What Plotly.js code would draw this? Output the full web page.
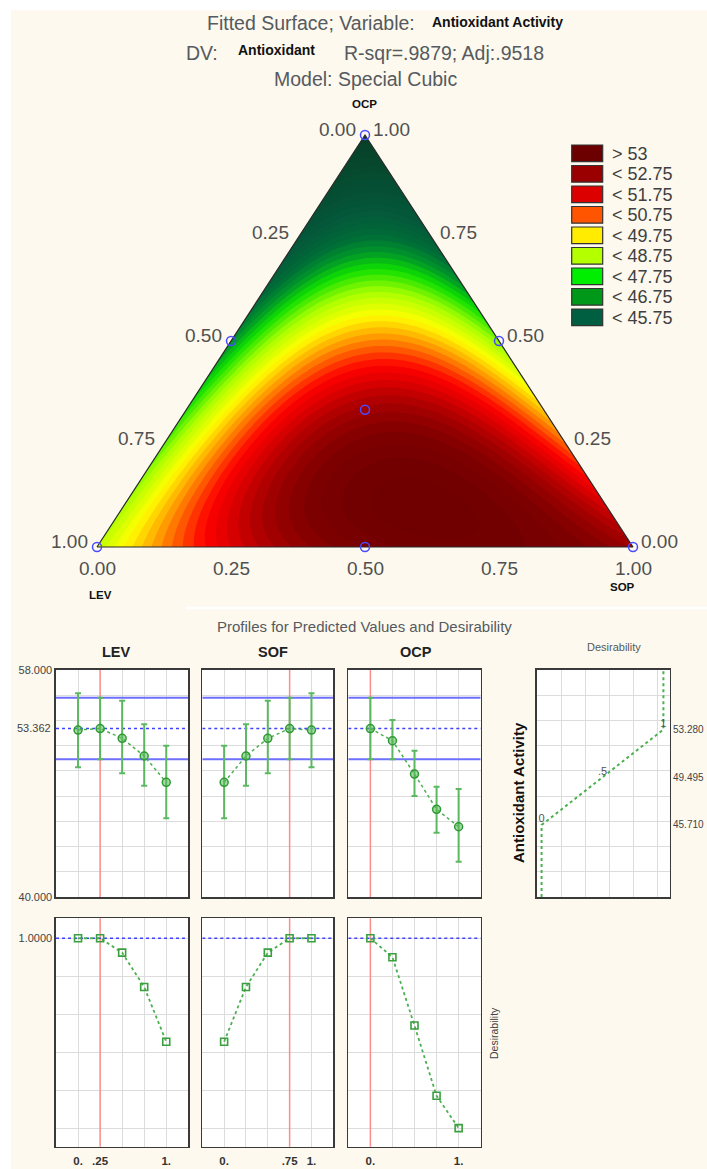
<!DOCTYPE html>
<html><head><meta charset="utf-8">
<script src="https://cdn.plot.ly/plotly-3.0.1.min.js"></script>
<style>html,body{margin:0;padding:0;background:#fff;}</style>
</head><body>
<div id="chart" style="width:707px;height:1169px"></div>
<script>
// ================= DATA =================
// Fitted surface: Special Cubic mixture model (LEV, SOP, OCP)
const modelTerms = ['LEV','SOP','OCP','LEV*SOP','LEV*OCP','SOP*OCP','LEV*SOP*OCP'];
const modelCoefs = [48.5, 52.7, 42.0, 11.75, 4.5, 2.5, 75.0];
// legend (contour classes)
const legendLabels = ['> 53','< 52.75','< 51.75','< 50.75','< 49.75','< 48.75','< 47.75','< 46.75','< 45.75'];
const legendColors = ['#6c0000','#9a0000','#dc0000','#ff5400','#ffec00','#b4ff00','#00ee00','#009818','#005f40'];
// continuous colour map of the surface
const stopValues = [42, 44.75, 45.75, 46.5, 47.25, 48.25, 49.25, 49.75, 50.25, 50.75, 51.25, 51.75, 52.25, 52.75, 53.25, 54.0];
const stopColors = ['#073f28','#04583a','#006a38','#00962a','#10e000','#a8ff00','#ffff00','#ffc800','#ff8a00','#ff4400',
                    '#ff0000','#e00000','#b80000','#980000','#800000','#700000'];
// design points (mixture compositions)
const designLEV = [1, 0, 0, 0.5, 0.5, 0, 1/3];
const designSOP = [0, 1, 0, 0.5, 0, 0.5, 1/3];
const designOCP = [0, 0, 1, 0, 0.5, 0.5, 1/3];
const ternTicks = [0, 0.25, 0.5, 0.75, 1];

// Profiles for predicted values and desirability
const profileNames = ['LEV','SOF','OCP'];
const profX = [0, 0.25, 0.5, 0.75, 1];
const levPred  = [53.24, 53.36, 52.58, 51.18, 49.09];
const levUpper = [56.15, 55.80, 55.57, 53.69, 52.00];
const levLower = [50.28, 50.92, 49.81, 48.82, 46.24];
const sofPred  = [49.09, 51.18, 52.58, 53.36, 53.24];
const sofUpper = [52.00, 53.69, 55.57, 55.80, 56.15];
const sofLower = [46.24, 48.82, 49.81, 50.92, 50.28];
const ocpPred  = [53.36, 52.39, 49.75, 46.95, 45.57];
const ocpUpper = [55.80, 54.03, 51.60, 48.75, 48.56];
const ocpLower = [50.92, 50.92, 48.00, 45.10, 42.80];
const levDes = [1.0, 1.0, 0.924, 0.743, 0.455];
const sofDes = [0.455, 0.743, 0.924, 1.0, 1.0];
const ocpDes = [1.0, 0.90, 0.54, 0.17, 0.0];
const currentSettings = [0.25, 0.75, 0];
const currentPred = 53.362, currentLow = 50.92, currentHigh = 55.80;
const currentDes = 1.0;
const xTickShown = [[0, 0.25, 1], [0, 0.75, 1], [0, 1]];
const xTickLabels = [['0.', '.25', '1.'], ['0.', '.75', '1.'], ['0.', '1.']];
// desirability function
const desX = [0, 0, 0.5, 1, 1];
const desY = [40, 45.71, 49.495, 53.28, 58];
const desKnotX = [0, 0.5, 1];
const desKnotY = [45.71, 49.495, 53.28];
const desKnotText = ['0', '.5', '1'];

// ================= RENDER =================
const W = 707, H = 1169;
const FONT = 'Arial, "Liberation Sans", Helvetica, sans-serif';
const CREAM = '#fdf9ee';
const GREEN = '#4cb050';
const topRange = [40, 58], botRange = [-0.098, 1.105], profRange = [-0.25, 1.25];

function tern(lev, sop, ocp){ return {x: sop + ocp/2, y: ocp}; }
function model(l, s, o){
  const t = [l, s, o, l*s, l*o, s*o, l*s*o];
  let v = 0; for (let k = 0; k < t.length; k++) v += modelCoefs[k]*t[k]; return v;
}
const dX = (a,b) => [a/W, b/W];
const dY = (top,bot) => [1 - bot/H, 1 - top/H];

// surface grid (sampling of the fitted model)
const N = 241, gx = [], gy = [];
for (let i = 0; i < N; i++){ gx.push(-0.012 + 1.024*i/(N-1)); gy.push(-0.012 + 1.024*i/(N-1)); }
const gz = gy.map(y => gx.map(x => { const o = y, s = x - y/2, l = 1 - s - o; return model(l, s, o); }));
// contour levels and colour scale mapped onto Plotly's fill colour domain
const cStart = 42, cEnd = 54, cSize = 0.25;
const nc = Math.floor((cEnd - cStart)/cSize + 1e-6) + 1;
const cLo = cStart - cSize/2, cSpan = nc*cSize;
const colorscale = [[0, stopColors[0]]];
stopValues.forEach((v,i) => { const t = (v - cLo)/cSpan; if (t > 0 && t < 1) colorscale.push([t, stopColors[i]]); });
colorscale.push([1, stopColors[stopColors.length-1]]);

const vBL = tern(1,0,0), vBR = tern(0,1,0), vTop = tern(0,0,1);
const traces = [];
traces.push({type:'contour', x:gx, y:gy, z:gz, xaxis:'x', yaxis:'y', colorscale,
  contours:{start:cStart, end:cEnd, size:cSize, coloring:'fill', showlines:false}, line:{width:0},
  showscale:false, hoverinfo:'skip'});
// mask outside triangle
traces.push({type:'scatter', mode:'lines', xaxis:'x', yaxis:'y', hoverinfo:'skip',
  x:[-0.1, 1.1, 1.1, -0.1, -0.1, vBL.x, vTop.x, vBR.x, vBL.x, -0.1],
  y:[-0.1, -0.1, 1.1, 1.1, -0.1, vBL.y, vTop.y, vBR.y, vBL.y, -0.1],
  fill:'toself', fillcolor:CREAM, line:{width:0, color:CREAM}});
traces.push({type:'scatter', mode:'lines', xaxis:'x', yaxis:'y', hoverinfo:'skip',
  x:[vBL.x, vBR.x, vTop.x, vBL.x], y:[vBL.y, vBR.y, vTop.y, vBL.y], line:{color:'#2a2a2a', width:1.2}});
const dp = designLEV.map((l,i) => tern(l, designSOP[i], designOCP[i]));
traces.push({type:'scatter', mode:'markers', xaxis:'x', yaxis:'y', cliponaxis:false, hoverinfo:'skip',
  x:dp.map(p=>p.x), y:dp.map(p=>p.y), marker:{symbol:'circle-open', size:9, color:'#4a4aff', line:{width:1.5}}});

// reference lines + profile traces
const preds = [levPred, sofPred, ocpPred], ups = [levUpper, sofUpper, ocpUpper], los = [levLower, sofLower, ocpLower];
const desv = [levDes, sofDes, ocpDes];
function refLine(xa, ya, x, y, color, width, dash){
  traces.push({type:'scatter', mode:'lines', xaxis:xa, yaxis:ya, x, y, hoverinfo:'skip',
    line:{color, width, dash:dash||'solid'}});
}
for (let i = 0; i < 3; i++){
  const xa = 'x' + (i+2), ya = 'y' + (i+2), xb = 'x' + (i+6), yb = 'y' + (i+6);
  refLine(xa, ya, [currentSettings[i], currentSettings[i]], topRange, '#ff8c8c', 1.5);
  refLine(xb, yb, [currentSettings[i], currentSettings[i]], botRange, '#ff8c8c', 1.5);
  refLine(xa, ya, profRange, [currentLow, currentLow], '#6f6fff', 2);
  refLine(xa, ya, profRange, [currentHigh, currentHigh], '#6f6fff', 2);
  refLine(xa, ya, profRange, [currentPred, currentPred], '#4040ff', 1.5, 'dot');
  refLine(xb, yb, profRange, [currentDes, currentDes], '#4040ff', 1.5, 'dot');
}
for (let i = 0; i < 3; i++){
  const xa = 'x' + (i+2), ya = 'y' + (i+2);
  traces.push({type:'scatter', mode:'lines+markers', xaxis:xa, yaxis:ya, x:profX, y:preds[i], hoverinfo:'skip',
    line:{color:GREEN, width:1.5, dash:'dot'},
    marker:{symbol:'circle', size:8, color:'rgba(90,185,90,0.55)', line:{color:'#2f9a35', width:1.5}},
    error_y:{type:'data', symmetric:false, array:ups[i].map((u,k)=>u-preds[i][k]), arrayminus:los[i].map((l,k)=>preds[i][k]-l),
      color:'#5cb860', thickness:2, width:3}});
  const xb = 'x' + (i+6), yb = 'y' + (i+6);
  traces.push({type:'scatter', mode:'lines+markers', xaxis:xb, yaxis:yb, x:profX, y:desv[i], hoverinfo:'skip',
    line:{color:GREEN, width:1.8, dash:'dot'},
    marker:{symbol:'square-open', size:7, color:'#3a9f3e', line:{width:1.6}}, cliponaxis:false});
}
traces.push({type:'scatter', mode:'lines', xaxis:'x5', yaxis:'y5', x:desX, y:desY, hoverinfo:'skip',
  line:{color:GREEN, width:2, dash:'dot'}});
traces.push({type:'scatter', mode:'text', xaxis:'x5', yaxis:'y5', x:desKnotX, y:desKnotY, text:desKnotText,
  textposition:'top center', textfont:{family:FONT, size:11, color:'#555'}, hoverinfo:'skip', cliponaxis:false});

// axes
function base(domain, range, extra){
  return Object.assign({domain, range, fixedrange:true, zeroline:false, showline:true, mirror:true,
    linecolor:'#3a3a3a', linewidth:1.6, showgrid:true, gridcolor:'#dcdcdc', gridwidth:1, ticks:'',
    tickfont:{family:FONT, size:11, color:'#444'}}, extra);
}
const topGridY = [40,42,44,46,48,50,52,54,56,58];
const botGridY = [0,0.2,0.4,0.6,0.8,1.0];
const desGridX = [0.165, 0.36, 0.555, 0.755, 0.955];
const colX = [[56,188.3],[202.3,333.3],[348.3,480.7]];
const layout = {
  width:W, height:H, margin:{l:0,r:0,t:0,b:0}, paper_bgcolor:CREAM, plot_bgcolor:'#ffffff', showlegend:false,
  font:{family:FONT},
  xaxis:{domain:dX(86.28,643.72), range:[-0.02,1.02], visible:false, fixedrange:true},
  yaxis:{domain:dY(126.76,555.24), range:[-0.02,1.02], visible:false, fixedrange:true},
  annotations:[], shapes:[]
};
for (let i = 0; i < 3; i++){
  const n = i+2, m = i+6;
  layout['xaxis'+n] = base(dX(colX[i][0], colX[i][1]), profRange, {anchor:'y'+n, tickvals:profX, showticklabels:false});
  layout['yaxis'+n] = base(dY(670,897), topRange, {anchor:'x'+n, tickvals:topGridY,
    showticklabels: i===0, ticktext: topGridY.map(v => (v===40||v===58) ? v.toFixed(3) : '')});
  layout['xaxis'+m] = base(dX(colX[i][0], colX[i][1]), profRange, {anchor:'y'+m, tickvals:profX,
    ticktext: profX.map(v => { const k = xTickShown[i].indexOf(v); return k >= 0 ? xTickLabels[i][k] : ''; }),
    tickfont:{family:FONT, size:11.5, color:'#333', weight:'bold'}, ticks:'outside', ticklen:3, tickcolor:'rgba(0,0,0,0)'});
  layout['yaxis'+m] = base(dY(918.3,1146.7), botRange, {anchor:'x'+m, tickvals:botGridY,
    showticklabels: i===0, ticktext: botGridY.map(v => v===1 ? '1.0000' : '')});
}
layout.xaxis5 = base(dX(536.7,669.5), [-0.04,1.05], {anchor:'y5', tickvals:desGridX, showticklabels:false});
layout.yaxis5 = base(dY(670,897), topRange, {anchor:'x5', tickvals:topGridY, showticklabels:false});

const A = layout.annotations, S = layout.shapes;
function txt(text, px, py, size, color, extra){
  A.push(Object.assign({text, xref:'paper', yref:'paper', x:px/W, y:1-py/H, showarrow:false,
    xanchor:'left', yanchor:'middle', font:{family:FONT, size, color}}, extra||{}));
}
// titles
const GREY = '#555a60';
txt('Fitted Surface; Variable:', 205, 22.5, 19.5, GREY);
txt('<b>Antioxidant Activity</b>', 430, 22, 14, '#111');
txt('DV:', 184, 53, 19.5, GREY);
txt('<b>Antioxidant</b>', 235.5, 49.5, 14, '#111');
txt('R-sqr=.9879; Adj:.9518', 342, 53, 19.5, GREY);
txt('Model: Special Cubic', 272, 79.5, 19.5, GREY);
txt('<b>OCP</b>', 365, 104, 11.5, '#111', {xanchor:'center'});
txt('<b>LEV</b>', 100, 595, 11.5, '#111', {xanchor:'center'});
txt('<b>SOP</b>', 622, 587, 11.5, '#111', {xanchor:'center'});

// ternary tick labels
ternTicks.forEach(v => {
  const lab = v.toFixed(2);
  const b = tern(1-v, v, 0), l = tern(v, 0, 1-v), r = tern(0, 1-v, v);
  A.push({text:lab, xref:'x', yref:'y', x:b.x, y:b.y, showarrow:false, xanchor:'center', yanchor:'middle', yshift:-21,
    font:{family:FONT, size:19, color:'#505050'}});
  A.push({text:lab, xref:'x', yref:'y', x:l.x, y:l.y, showarrow:false, xanchor:'right', yanchor:'middle', xshift:-7, yshift:6,
    font:{family:FONT, size:19, color:'#505050'}});
  A.push({text:lab, xref:'x', yref:'y', x:r.x, y:r.y, showarrow:false, xanchor:'left', yanchor:'middle', xshift:6, yshift:6,
    font:{family:FONT, size:19, color:'#505050'}});
});

// legend
legendLabels.forEach((lab, i) => {
  const top = 145 + i*20.5;
  S.push({type:'rect', xref:'paper', yref:'paper', x0:571.7/W, x1:602.7/W, y0:1-(top+16.7)/H, y1:1-top/H,
    fillcolor:legendColors[i], line:{color:'#333', width:1.2}, layer:'above'});
  txt(lab, 610, top + 8.6, 18, '#404040');
});

// white framing
S.push({type:'rect', xref:'paper', yref:'paper', x0:0, x1:1, y0:1-10/H, y1:1, fillcolor:'#ffffff', line:{width:0}, layer:'above'});
S.push({type:'rect', xref:'paper', yref:'paper', x0:0, x1:11/W, y0:0, y1:1, fillcolor:'#ffffff', line:{width:0}, layer:'above'});
S.push({type:'line', xref:'paper', yref:'paper', x0:186/W, x1:1, y0:1-608/H, y1:1-608/H, line:{color:'#ffffff', width:2.5}, layer:'above'});

// profile titles
txt('Profiles for Predicted Values and Desirability', 364, 626.5, 15, GREY, {xanchor:'center'});
const titleX = [116.7, 273.3, 416.3];
profileNames.forEach((nm,i) => txt('<b>'+nm+'</b>', titleX[i], 651.7, 14.5, '#222', {xanchor:'center'}));
txt('Desirability', 614, 647.3, 11, GREY, {xanchor:'center'});
txt('<b>Antioxidant Activity</b>', 518, 793, 15, '#111', {xanchor:'center', textangle:-90});
txt('Desirability', 494, 1033, 10.5, '#444', {xanchor:'center', textangle:-90});

A.push({text:currentPred.toFixed(3), xref:'x2 domain', yref:'y2', x:0, y:currentPred, xanchor:'right', yanchor:'middle',
  xshift:-3, showarrow:false, font:{family:FONT, size:11, color:'#444'}});
desKnotY.forEach(v => A.push({text:v.toFixed(3), xref:'x5 domain', yref:'y5', x:1, y:v, xanchor:'left', yanchor:'middle',
  xshift:1, showarrow:false, font:{family:FONT, size:10, color:'#444'}}));

Plotly.newPlot('chart', traces, layout, {staticPlot:true, displayModeBar:false});
</script>
</body></html>
